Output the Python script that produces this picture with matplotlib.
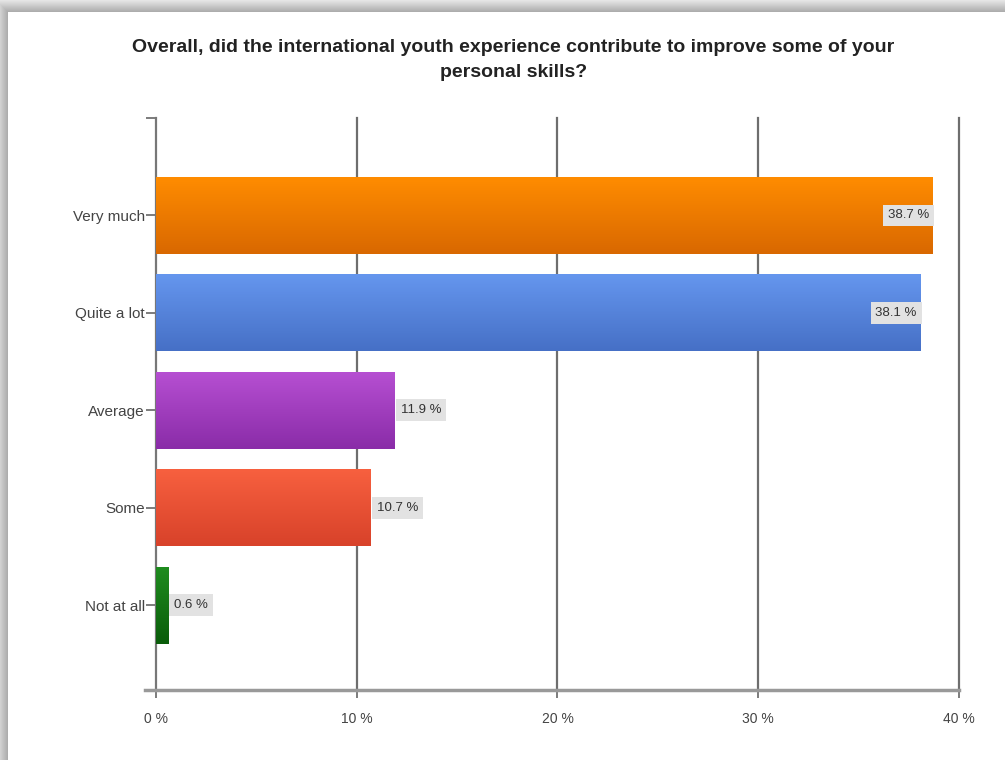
import numpy as np
import matplotlib
matplotlib.use('Agg')
from matplotlib import pyplot as plt
from matplotlib.colors import LinearSegmentedColormap

plt.rcParams['font.family'] = ['Liberation Sans', 'DejaVu Sans']

# Respuestas y porcentajes
categorias = ['Very much', 'Quite a lot', 'Average', 'Some', 'Not at all']
porcentajes = [38.7, 38.1, 11.9, 10.7, 0.6]
etiquetas = ['38.7 %', '38.1 %', '11.9 %', '10.7 %', '0.6 %']
ticks_x = [0, 10, 20, 30, 40]

# Degradado de cada barra (arriba, abajo)
colores = [('#ff8c00', '#d96800'),
           ('#6596ee', '#4670c6'),
           ('#b64fd2', '#8a2ca8'),
           ('#f7603f', '#d8422a'),
           ('#1f8c1f', '#0a5c0a')]

fig = plt.figure(figsize=(10.05, 7.6), dpi=100)

# Fondo: tarjeta blanca con sombra gris arriba y a la izquierda
H, W = 760, 1005
yy, xx = np.mgrid[0:H, 0:W]
d = np.maximum(12 - yy, 8 - xx).astype(float)
gris = np.where(d > 0, 0.66 + 0.24 * np.clip(d / 12.0, 0, 1), 1.0)
fondo = fig.add_axes([0, 0, 1, 1], zorder=-1)
fondo.imshow(np.dstack([gris, gris, gris]), aspect='auto', interpolation='bilinear')
fondo.axis('off')

ax = fig.add_axes([0.1552, 0.0921, 0.799, 0.7526])
ax.set_facecolor('none')

pos = np.arange(len(categorias))
alto = 0.79
barras = ax.barh(pos, porcentajes, height=alto, color='none', edgecolor='none', zorder=3)

grad = np.linspace(0, 1, 100).reshape(-1, 1)
for barra, v, (c1, c2), y in zip(barras, porcentajes, colores, pos):
    cmap = LinearSegmentedColormap.from_list('g', [c1, c2])
    img = ax.imshow(grad, extent=(0, v, y + alto / 2, y - alto / 2), origin='upper',
                    aspect='auto', cmap=cmap, zorder=3, interpolation='bilinear')
    img.set_clip_path(barra)

# Etiquetas de valor
for v, y, txt in zip(porcentajes, pos, etiquetas):
    caja = dict(facecolor='#e2e2e2', edgecolor='none', pad=3.5)
    if v > 20:
        ax.text(v - 0.2, y, txt, ha='right', va='center', fontsize=9.5,
                color='#333333', bbox=caja, zorder=5)
    else:
        ax.text(v + 0.3, y, txt, ha='left', va='center', fontsize=9.5,
                color='#333333', bbox=caja, zorder=5)

ax.set_xlim(0, 40)
ax.set_ylim(4.87, -1.0)
ax.set_xticks(ticks_x)
ax.set_xticklabels([f'{t} %' for t in ticks_x], fontsize=10, color='#444444')
ax.set_yticks(pos)
ax.set_yticklabels(categorias, fontsize=11, color='#444444')
ax.set_yticks([-1.0], minor=True)
ax.tick_params(axis='y', which='both', length=7, color='#666666', width=1.2, pad=1)
ax.tick_params(axis='x', length=6, color='#666666', width=1.2, pad=10)

# Líneas de la cuadrícula vertical
for t in ticks_x[1:]:
    ax.axvline(t, color='#6e6e6e', linewidth=1.6, zorder=1, clip_on=False)

for lado in ['top', 'right']:
    ax.spines[lado].set_visible(False)
ax.spines['left'].set_color('#777777')
ax.spines['left'].set_linewidth(1.6)
ax.spines['bottom'].set_color('#999999')
ax.spines['bottom'].set_linewidth(2.5)
ax.spines['bottom'].set_bounds(-0.55, 40)

fig.text(0.511, 0.921, 'Overall, did the international youth experience contribute to improve some of your\npersonal skills?',
         ha='center', va='center', fontsize=14, fontweight='bold', color='#222222',
         linespacing=1.6)

plt.savefig('out.png', dpi=100)
